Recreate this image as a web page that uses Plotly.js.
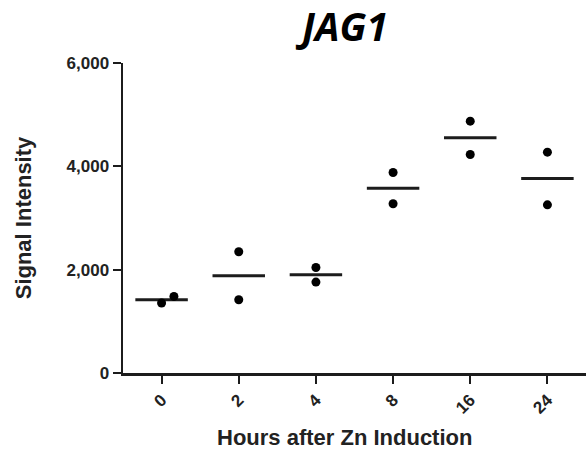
<!DOCTYPE html>
<html>
<head>
<meta charset="utf-8">
<script src="https://cdn.plot.ly/plotly-3.0.1.min.js"></script>
<style>
  html, body { margin: 0; padding: 0; background: #fff; }
  #chart { width: 586px; height: 450px; }
</style>
</head>
<body>
<div id="chart"></div>
<script>
// Hours after zinc induction (categories) and the two replicate signal values per time point
const hours = ['0', '2', '4', '8', '16', '24'];
const rep1 = [1354, 2346, 2043, 3880, 4874, 4274];
const rep2 = [1482, 1417, 1760, 3275, 4228, 3255];
const yTicks = [0, 2000, 4000, 6000];

const idx = hours.map((_, i) => i);
const means = idx.map(i => (rep1[i] + rep2[i]) / 2);

// nudge the second replicate sideways when the two dots would overlap
const x1 = idx.slice();
const x2 = idx.map(i => Math.abs(rep1[i] - rep2[i]) < 200 ? i + 0.16 : i);

// horizontal mean bars, one segment per time point
const halfBar = 0.34;
const barX = [], barY = [];
idx.forEach(i => {
  barX.push(i - halfBar, i + halfBar, null);
  barY.push(means[i], means[i], null);
});

const ink = '#1c1c1c';
const sans = 'Liberation Sans, Arial, sans-serif';
const traces = [
  {
    x: barX, y: barY, type: 'scatter', mode: 'lines',
    line: { color: ink, width: 3 }, hoverinfo: 'skip', showlegend: false
  },
  {
    x: x1.concat(x2), y: rep1.concat(rep2), type: 'scatter', mode: 'markers',
    marker: { color: '#000', size: 9 }, showlegend: false
  }
];

const layout = {
  width: 586, height: 450,
  margin: { l: 123, r: 0, t: 63, b: 77 },
  paper_bgcolor: '#fff', plot_bgcolor: '#fff',
  showlegend: false,
  title: {
    text: '<b><i>JAG1</i></b>',
    font: { family: 'Open Sans, sans-serif', size: 39, color: '#000' },
    xref: 'container', yref: 'container',
    x: 345 / 586, xanchor: 'center',
    y: 1 - 27 / 450, yanchor: 'middle'
  },
  xaxis: {
    range: [-0.5, 5.5],
    tickvals: idx, ticktext: hours, tickangle: -45,
    tickfont: { family: sans, size: 17, color: '#222', weight: 'bold' },
    ticks: 'outside', ticklen: 8, tickwidth: 2, tickcolor: ink,
    showline: true, linewidth: 2.5, linecolor: ink,
    showgrid: false, zeroline: false, fixedrange: true
  },
  yaxis: {
    range: [0, 6000],
    tickvals: yTicks, tickformat: ',d',
    tickfont: { family: sans, size: 17, color: '#222', weight: 'bold' },
    ticks: 'outside', ticklen: 8, tickwidth: 2, tickcolor: ink,
    showline: true, linewidth: 2.5, linecolor: ink,
    showgrid: false, zeroline: false, fixedrange: true,
    title: {
      text: '<b>Signal Intensity</b>',
      font: { family: sans, size: 22, color: '#222' },
      standoff: 29
    }
  },
  annotations: [{
    text: '<b>Hours after Zn Induction</b>',
    font: { family: sans, size: 22, color: '#222' },
    xref: 'paper', yref: 'paper',
    x: (344 - 123) / 463, xanchor: 'center',
    y: -(437 - 373) / 310, yanchor: 'middle',
    showarrow: false
  }]
};

Plotly.newPlot('chart', traces, layout, { staticPlot: true, displayModeBar: false });
</script>
</body>
</html>
